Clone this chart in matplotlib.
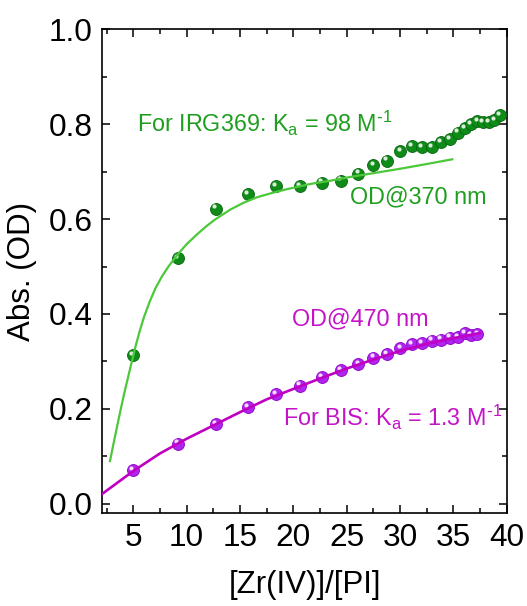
import matplotlib
matplotlib.use("Agg")
import matplotlib.pyplot as plt
from matplotlib.ticker import MultipleLocator
from matplotlib.transforms import offset_copy

# ---------------- data ----------------
x_green = [5.0, 9.16, 12.72, 15.78, 18.37, 20.62, 22.66, 24.45, 26.1, 27.5, 28.8,
           30.03, 31.1, 32.05, 33.0, 33.85, 34.65, 35.4, 36.05, 36.65, 37.25,
           37.8, 38.3, 38.85, 39.35]
od370 = [0.314, 0.517, 0.622, 0.653, 0.670, 0.670, 0.677, 0.681, 0.696, 0.714, 0.723,
         0.743, 0.754, 0.752, 0.752, 0.763, 0.769, 0.782, 0.792, 0.800, 0.807,
         0.804, 0.804, 0.808, 0.819]

x_purple = [5.0, 9.16, 12.72, 15.78, 18.37, 20.62, 22.66, 24.45, 26.1, 27.5, 28.8,
            30.03, 31.1, 32.05, 33.0, 33.85, 34.65, 35.4, 36.05, 36.65, 37.25]
od470 = [0.071, 0.127, 0.168, 0.204, 0.231, 0.249, 0.267, 0.282, 0.295, 0.308, 0.316,
         0.328, 0.336, 0.339, 0.344, 0.346, 0.350, 0.352, 0.359, 0.355, 0.358]

fit_green_x = [2.82, 3.3, 3.75, 4.15, 4.53, 5.0, 5.3, 5.62, 6.0, 6.56, 7.1, 7.66, 8.3,
               9.07, 10.0, 10.94, 11.8, 12.66, 14.1, 15.3, 16.6, 18.0, 19.4, 21.6,
               23.5, 25.4, 27.3, 30.0, 32.5, 34.9]
fit_green_y = [0.090, 0.143, 0.191, 0.232, 0.268, 0.312, 0.339, 0.365, 0.393, 0.427,
               0.455, 0.478, 0.500, 0.523, 0.547, 0.567, 0.584, 0.599, 0.620, 0.634,
               0.646, 0.655, 0.663, 0.674, 0.681, 0.689, 0.696, 0.706, 0.716, 0.726]

fit_purple_x = [2.1, 5.0, 7.5, 10.0, 12.5, 15.0, 17.5, 20.0, 22.5, 25.0, 27.5, 30.0,
                32.5, 35.0, 37.5]
fit_purple_y = [0.021, 0.069, 0.106, 0.137, 0.165, 0.193, 0.220, 0.242, 0.264, 0.285,
                0.304, 0.322, 0.337, 0.349, 0.360]

x_ticks = [5, 10, 15, 20, 25, 30, 35, 40]
y_ticks = [0.0, 0.2, 0.4, 0.6, 0.8, 1.0]

# ---------------- style ----------------
plt.rcParams['font.family'] = ['Liberation Sans', 'DejaVu Sans']
plt.rcParams['mathtext.default'] = 'regular'

fig = plt.figure(figsize=(5.27, 6.06), dpi=100)
ax = fig.add_axes([0.1941, 0.1530, 0.9615 - 0.1941, 0.9517 - 0.1530])

GREEN_LINE = '#4cc83a'
GREEN_DOT = '#0f8c17'
GREEN_EDGE = '#086410'
GREEN_TEXT = '#1f9f1f'
MAG_LINE = '#c000c0'
PURP_DOT = '#b024f0'
PURP_EDGE = '#9000c8'
MAG_TEXT = '#c414c8'


def balls(xs, ys, face, edge, z):
    ax.plot(xs, ys, 'o', ms=8.6, mfc=face, mec=edge, mew=0.6, zorder=z, ls='none')
    tr = offset_copy(ax.transData, fig=fig, x=-1.3, y=1.6, units='points')
    ax.plot(xs, ys, 'o', ms=3.0, mfc='white', mec='none', alpha=0.85,
            transform=tr, zorder=z + 0.1, ls='none')


balls(x_green, od370, GREEN_DOT, GREEN_EDGE, 3)
balls(x_purple, od470, PURP_DOT, PURP_EDGE, 3)
ax.plot(fit_green_x, fit_green_y, color=GREEN_LINE, lw=1.6, zorder=4,
        solid_joinstyle='round')
ax.plot(fit_purple_x, fit_purple_y, color=MAG_LINE, lw=1.9, zorder=4,
        solid_joinstyle='round')

fs_txt = 16.8
ax.text(5.32, 0.784, r'For IRG369: K$_{a}$ = 98 M$^{\text{-}1}$', color=GREEN_TEXT,
        fontsize=fs_txt, ha='left', va='baseline')
ax.text(25.3, 0.634, 'OD@370 nm', color=GREEN_TEXT, fontsize=fs_txt,
        ha='left', va='baseline')
ax.text(19.85, 0.375, 'OD@470 nm', color=MAG_TEXT, fontsize=fs_txt,
        ha='left', va='baseline')
ax.text(19.06, 0.163, r'For BIS: K$_{a}$ = 1.3 M$^{\text{-}1}$', color=MAG_TEXT,
        fontsize=fs_txt, ha='left', va='baseline')

ax.set_xlim(2.1, 40)
ax.set_ylim(-0.02, 1.0)
ax.set_xticks(x_ticks)
ax.set_yticks(y_ticks)
ax.set_yticklabels([f'{v:.1f}' for v in y_ticks])
ax.xaxis.set_minor_locator(MultipleLocator(2.5))
ax.yaxis.set_minor_locator(MultipleLocator(0.1))
ax.tick_params(which='both', direction='in', top=True, right=True, width=1.1,
               labelsize=22.8, pad=7)
ax.tick_params(which='major', length=6)
ax.tick_params(which='minor', length=3.5)
for s in ax.spines.values():
    s.set_linewidth(1.2)

ax.set_xlabel('[Zr(IV)]/[PI]', fontsize=22.5, labelpad=12)
ax.set_ylabel('Abs. (OD)', fontsize=22.5, labelpad=8)

fig.savefig('out.png', dpi=100)
